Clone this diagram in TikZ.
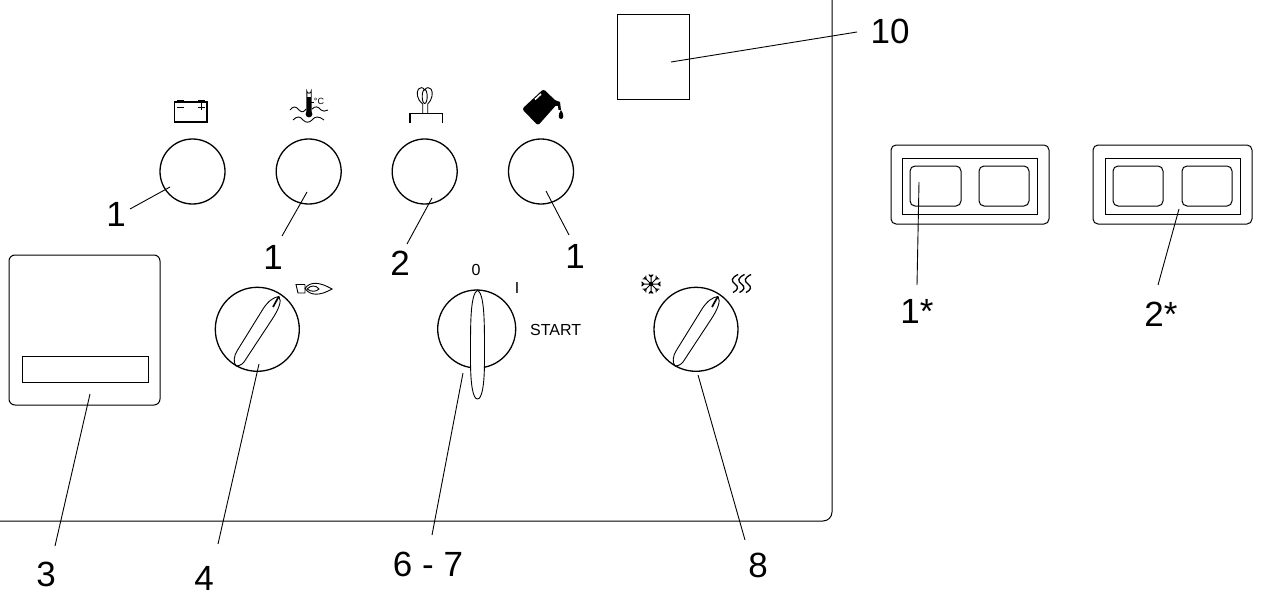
\documentclass[tikz,border=0pt]{standalone}
\usepackage{fontspec}
\setmainfont{Liberation Sans}
\newcommand{\knobneedle}{%
  \draw[icon] (279,296.5) .. controls (282,301) and (279,309) .. (271,321) -- (244,362) .. controls (242,365) and (238,366) .. (236,366)
    .. controls (233,362) and (234,356) .. (237,351) -- (263,309) .. controls (268,301) and (274,297) .. (279,296.5) -- cycle;
  \draw[line width=1.7pt] (278.5,297) -- (273,307);
}
\begin{document}
\begin{tikzpicture}[x=1pt,y=-1pt,
  lab/.style={inner sep=0pt,font=\fontsize{35}{35}\selectfont},
  smalltxt/.style={inner sep=0pt,font=\fontsize{16}{16}\selectfont},
  gauge/.style={circle,draw,line width=1.3pt,minimum size=65pt,inner sep=0pt},
  dial/.style={circle,draw,line width=1.3pt,inner sep=0pt},
  leader/.style={line width=0.9pt},
  outl/.style={line width=1pt},
  icon/.style={line width=0.9pt}]
\useasboundingbox (0,0) rectangle (1263,607);
% panel
\draw[outl,rounded corners=9pt] (-5,521) -- (832,521) -- (832,-5);
% box 10
\node[draw,outl,minimum width=72pt,minimum height=85pt,inner sep=0pt] (b10) at (653,57.5) {};
\coordinate (b10p) at (671,62);
\node[lab] (l10) at (890,31) {10};
\draw[leader] (b10p) -- (857,32);
% gauges
\node[gauge] (g1) at (192.5,171.5) {};
\node[gauge] (g2) at (308.7,171.5) {};
\node[gauge] (g3) at (424.7,171.5) {};
\node[gauge] (g4) at (541,171.5) {};
\coordinate (g1p) at (170,187); \coordinate (g2p) at (307,192);
\coordinate (g3p) at (432,198); \coordinate (g4p) at (546,191);
\node[lab] (l1a) at (116,214) {1};
\node[lab] (l1b) at (273,257) {1};
\node[lab] (l2)  at (400,263) {2};
\node[lab] (l1c) at (575,256) {1};
\draw[leader] (g1p) -- (130,209);
\draw[leader] (g2p) -- (282,236);
\draw[leader] (g3p) -- (407,244);
\draw[leader] (g4p) -- (569,235);
% battery
\draw[line width=1.2pt] (174.5,102) rectangle (207,122);
\fill (177,100) rectangle (184,102);
\fill (198,100) rectangle (205,102);
\draw[line width=.5pt] (177,107) -- (184,107) (198,107) -- (205,107) (201.5,103.5) -- (201.5,110);
% thermometer
\draw[icon] (306.8,114) -- (306.8,91) arc (180:0:2.2) -- (311.2,114);
\fill (309,114) circle (3.4);
\fill (307.2,97) rectangle (310.8,114);
\draw[icon] (290,110) .. controls (293,106) and (296,106) .. (299,110) .. controls (302,113) and (304,112) .. (306,109);
\draw[icon] (312,109) .. controls (315,106) and (318,106) .. (321,110) .. controls (323,112) and (325,111) .. (328,110);
\draw[icon] (293,120) .. controls (297,116) and (300,116) .. (303,120) .. controls (306,123) and (309,123) .. (312,120) .. controls (315,116) and (319,116) .. (324,120);
\node[inner sep=0pt,font=\fontsize{9}{9}\selectfont] (tc) at (319,101) {°C};
\draw[icon] (311,102) -- (314,102);
% glow plug
\draw[line width=1.1pt] (410,123.5) -- (410,113.8) -- (442.5,113.8) -- (442.5,123.5);
\draw[icon] (422.7,113.8) -- (422.7,104) .. controls (417,100) and (416,92) .. (418.5,89) .. controls (420,87) and (423,87) .. (424.7,90)
  .. controls (426.4,87) and (429.4,87) .. (431,89) .. controls (433.4,92) and (432.4,100) .. (427.7,104) -- (427.7,113.8);
\draw[icon] (424.7,96.5) ellipse (2.5 and 7);
% oil can
\fill[rounded corners=2.5pt] (543.5,89) -- (558,103) -- (538,125.5) -- (522,109) -- cycle;
\draw[white,line width=1.6pt] (541,94) -- (535,99.5);
\fill (552,99) -- (560,102) -- (561,110) -- (558.5,110) -- (558,106) -- (553,106) -- cycle;
\fill (561,110) .. controls (558,114) and (558,119) .. (561,119) .. controls (564,119) and (564,114) .. (561,110) -- cycle;
% box 3
\node[draw,outl,rounded corners=6pt,minimum width=151pt,minimum height=150pt,inner sep=0pt] (b3) at (84.5,330) {};
\node[draw,line width=.9pt,minimum width=126pt,minimum height=26pt,inner sep=0pt] (b3i) at (85,369) {};
\coordinate (b3p) at (90,394);
\node[lab] (l3) at (46,574) {3};
\draw[leader] (b3p) -- (55,546);
% dial 4
\node[dial,minimum size=84pt] (d4) at (257.3,329.3) {};
\knobneedle
\coordinate (d4p) at (259,364);
\node[lab] (l4) at (204,578) {4};
\draw[leader] (d4p) -- (218,544);
% flame
\draw[icon] (305,284.5) -- (296,284.5) -- (298,293) -- (305,293) -- (305,284.5);
\draw[icon] (305,288.5) .. controls (310,281) and (320,282) .. (332,289) .. controls (320,296) and (310,296) .. (305,288.5);
\draw[icon] (307,289) .. controls (311,285) and (316,285) .. (319,289) .. controls (316,292) and (311,292) .. (307,289);
% key 6-7
\node[dial,minimum size=78pt] (d6) at (476.7,329) {};
\draw[icon,fill=white] (477.5,290) .. controls (470,295) and (470.5,325) .. (470.5,360) .. controls (470.5,385) and (473,399) .. (477.5,399)
  .. controls (482,399) and (484.5,385) .. (484.5,360) .. controls (484.5,325) and (485,295) .. (477.5,290) -- cycle;
\coordinate (d6p) at (463,373);
\node[lab] (l6) at (428,564) {6 - 7};
\draw[leader] (d6p) -- (432,535);
\node[smalltxt] (t0) at (476,270) {0};
\node[smalltxt] (tI) at (517,288) {I};
\node[smalltxt,anchor=west] (tS) at (530,330) {START};
% dial 8
\node[dial,minimum size=84pt] (d8) at (696,329.3) {};
\begin{scope}[shift={(439,0)}]
\knobneedle
\end{scope}
\coordinate (d8p) at (698,375);
\node[lab] (l8) at (758,565) {8};
\draw[leader] (d8p) -- (745,540);
% snowflake
\begin{scope}[shift={(651,284)}]
\foreach \a in {0,45,...,315}{
  \draw[line width=1pt,rotate=\a] (0,0) -- (9.5,0) (9.5,-2.2) -- (7,0) -- (9.5,2.2);
}
\fill (0,0) circle (2.2);
\end{scope}
% heat
\foreach \x in {735,741.5,748}{
  \draw[line width=1.3pt] (\x+3,274.5) .. controls (\x-4,278) and (\x-4,281) .. (\x,284) .. controls (\x+4,287) and (\x+3,290) .. (\x-2,292.5);
}
% right panels
\node[draw,outl,rounded corners=5pt,minimum width=158pt,minimum height=79pt,inner sep=0pt] (r1o) at (970,184.5) {};
\node[draw,outl,minimum width=135pt,minimum height=56pt,inner sep=0pt] (r1i) at (969.5,186) {};
\node[draw,outl,rounded corners=5pt,minimum width=51pt,minimum height=40pt,inner sep=0pt] (r1a) at (935.5,186) {};
\node[draw,outl,rounded corners=5pt,minimum width=50pt,minimum height=40pt,inner sep=0pt] (r1b) at (1004,186) {};
\coordinate (r1p) at (919,182);
\node[lab] (l1s) at (917,311) {1*};
\draw[leader] (r1p) -- (917,285);
\node[draw,outl,rounded corners=5pt,minimum width=159pt,minimum height=79pt,inner sep=0pt] (r2o) at (1172.5,184.5) {};
\node[draw,outl,minimum width=135pt,minimum height=56pt,inner sep=0pt] (r2i) at (1172.5,186) {};
\node[draw,outl,rounded corners=5pt,minimum width=50pt,minimum height=40pt,inner sep=0pt] (r2a) at (1138,186) {};
\node[draw,outl,rounded corners=5pt,minimum width=50pt,minimum height=40pt,inner sep=0pt] (r2b) at (1207,186) {};
\coordinate (r2p) at (1179,209);
\node[lab] (l2s) at (1161,314) {2*};
\draw[leader] (r2p) -- (1158,285);
\end{tikzpicture}
\end{document}
